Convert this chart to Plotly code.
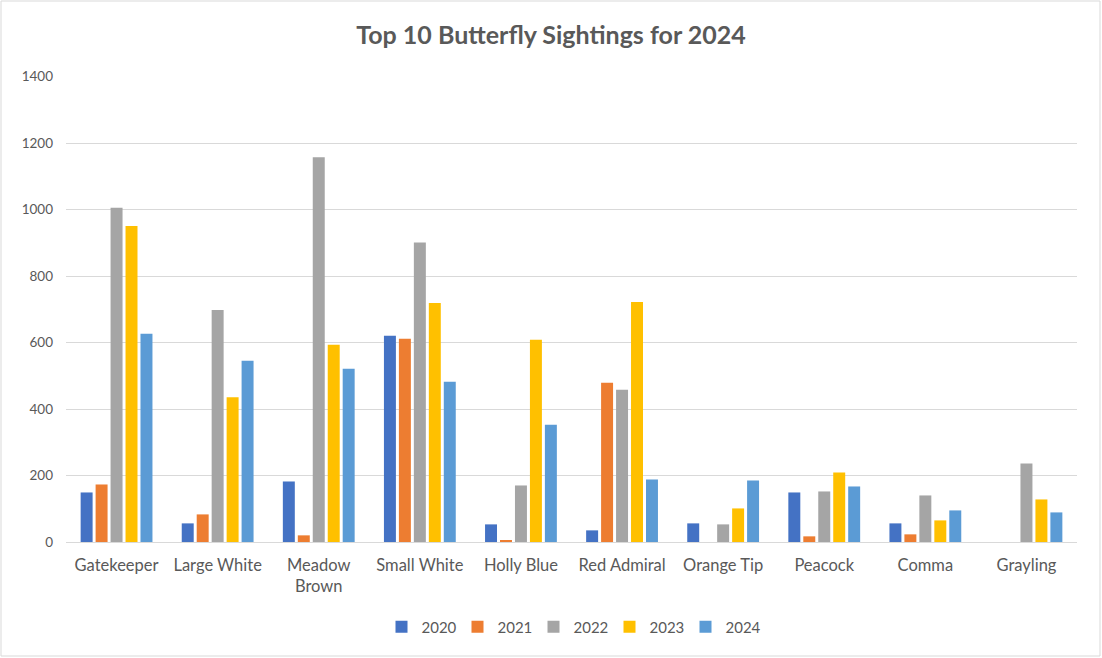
import plotly.graph_objects as go

categories = ["Gatekeeper", "Large White", "Meadow<br>Brown", "Small White", "Holly Blue",
              "Red Admiral", "Orange Tip", "Peacock", "Comma", "Grayling"]
years = ["2020", "2021", "2022", "2023", "2024"]
v2020 = [149, 56, 182, 620, 53, 35, 56, 149, 56, 0]
v2021 = [173, 83, 20, 611, 5, 479, 0, 17, 23, 0]
v2022 = [1005, 698, 1157, 901, 170, 458, 53, 152, 140, 236]
v2023 = [950, 435, 593, 719, 608, 722, 101, 209, 65, 128]
v2024 = [626, 545, 521, 482, 353, 188, 185, 167, 95, 89]
series = [v2020, v2021, v2022, v2023, v2024]
colors = ["#4472C4", "#ED7D31", "#A5A5A5", "#FFC000", "#5B9BD5"]
y_ticks = [0, 200, 400, 600, 800, 1000, 1200, 1400]

font_family = "Lato, Open Sans, sans-serif"
text_color = "#595959"

fig = go.Figure()
for name, vals, col in zip(years, series, colors):
    fig.add_trace(go.Bar(name=name, x=categories, y=vals, marker_color=col,
                         marker_line_width=0))

W, H = 1102, 658
L, R, T, B = 66, 25, 76, 116
pw, ph = W - L - R, H - T - B

fig.update_layout(
    width=W, height=H,
    margin=dict(l=L, r=R, t=T, b=B),
    paper_bgcolor="white", plot_bgcolor="white",
    barmode="group", bargap=0.26, bargroupgap=0.2,
    title=dict(text="<b>Top 10 Butterfly Sightings for 2024</b>", x=0.5, xanchor="center",
               y=1 - 35 / H, yanchor="middle",
               font=dict(family=font_family, size=25, color=text_color)),
    font=dict(family=font_family, color=text_color),
    legend=dict(orientation="h", x=0.5, xanchor="center", y=(T + ph - 627) / ph,
                yanchor="middle", font=dict(size=15, color=text_color),
                itemwidth=30, entrywidth=31, entrywidthmode="pixels",
                traceorder="normal"),
    showlegend=True,
)
fig.update_xaxes(showgrid=False, showline=True, linecolor="#D9D9D9", linewidth=1,
                 tickfont=dict(size=16.5, color=text_color), ticks="",
                 ticklabelstandoff=8)
fig.update_yaxes(range=[0, 1401.5], tickvals=y_ticks, showgrid=True, gridcolor="#D9D9D9",
                 gridwidth=1.3, zeroline=False, showline=False,
                 tickfont=dict(size=13.5, color=text_color), ticklabelstandoff=12)

# outer chart border
fig.add_shape(type="rect", xref="paper", yref="paper",
              x0=(1 - L) / pw, x1=(W - 2 - L) / pw,
              y0=(T + ph - (H - 2)) / ph, y1=(T + ph - 1) / ph,
              line=dict(color="#D9D9D9", width=1), fillcolor="rgba(0,0,0,0)", layer="below")

fig.write_html("out.html", config={"displayModeBar": False},
               post_script="document.body.style.margin='0';")
